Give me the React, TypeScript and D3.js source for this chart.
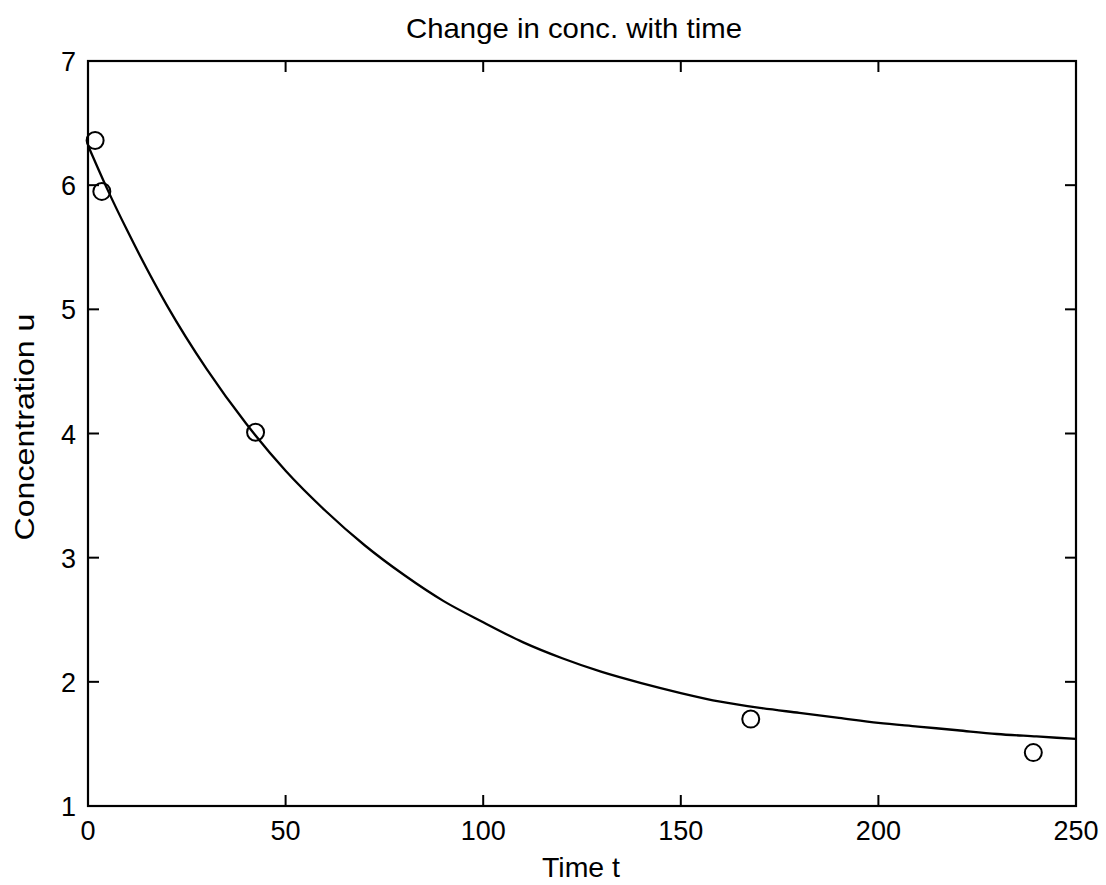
import React from "react";
import * as d3 from "d3";

const title = "Change in conc. with time";
const xLabel = "Time t";
const yLabel = "Concentration u";

const xTicks = [0, 50, 100, 150, 200, 250];
const yTicks = [1, 2, 3, 4, 5, 6, 7];

// observed data (circles)
const obsT = [1.8, 3.5, 42.4, 167.7, 239.2];
const obsU = [6.36, 5.95, 4.01, 1.7, 1.43];

// fitted curve
const fitT = [0, 5, 10, 20, 30, 40, 50, 60, 70, 80, 90, 100, 110, 120, 130, 140, 150, 160, 170, 180, 190, 200, 210, 220, 230, 240, 250];
const fitU = [6.32, 5.96, 5.63, 5.03, 4.52, 4.08, 3.7, 3.38, 3.1, 2.86, 2.65, 2.48, 2.32, 2.19, 2.08, 1.99, 1.91, 1.84, 1.79, 1.75, 1.71, 1.67, 1.64, 1.61, 1.58, 1.56, 1.54];

const W = 1106;
const H = 885;
const left = 88, right = 1076, top = 61, bottom = 806;
const font = "'Liberation Sans', Arial, sans-serif";

export default function App() {
  const x = d3.scaleLinear().domain([0, 250]).range([left, right]);
  const y = d3.scaleLinear().domain([1, 7]).range([bottom, top]);
  const line = d3
    .line<number>()
    .x((_, i) => x(fitT[i]))
    .y((d) => y(d))
    .curve(d3.curveMonotoneX);
  const tl = 11;
  return (
    <svg
      width={W}
      height={H}
      style={{ position: "absolute", left: 0, top: 0, background: "#fff" }}
    >
      <rect x={0} y={0} width={W} height={H} fill="#fff" />
      <path d={line(fitU) || ""} fill="none" stroke="#000" strokeWidth={2.3} />
      {obsT.map((t, i) => (
        <circle key={i} cx={x(t)} cy={y(obsU[i])} r={8.5} fill="none" stroke="#000" strokeWidth={2} />
      ))}
      <rect x={left} y={top} width={right - left} height={bottom - top} fill="none" stroke="#000" strokeWidth={2.2} />
      {xTicks.map((t) => (
        <g key={"x" + t}>
          <line x1={x(t)} x2={x(t)} y1={bottom} y2={bottom - tl} stroke="#000" strokeWidth={2} />
          <line x1={x(t)} x2={x(t)} y1={top} y2={top + tl} stroke="#000" strokeWidth={2} />
          <text x={x(t)} y={840} textAnchor="middle" fontFamily={font} fontSize={27}>
            {t}
          </text>
        </g>
      ))}
      {yTicks.map((v) => (
        <g key={"y" + v}>
          <line x1={left} x2={left + tl} y1={y(v)} y2={y(v)} stroke="#000" strokeWidth={2} />
          <line x1={right} x2={right - tl} y1={y(v)} y2={y(v)} stroke="#000" strokeWidth={2} />
          <text x={76} y={y(v) + 10} textAnchor="end" fontFamily={font} fontSize={27}>
            {v}
          </text>
        </g>
      ))}
      <text x={574} y={38} textAnchor="middle" fontFamily={font} fontSize={28} textLength={336} lengthAdjust="spacingAndGlyphs">
        {title}
      </text>
      <text x={581} y={877} textAnchor="middle" fontFamily={font} fontSize={28} textLength={78} lengthAdjust="spacingAndGlyphs">
        {xLabel}
      </text>
      <text
        transform={`translate(34,427) rotate(-90)`}
        textAnchor="middle"
        fontFamily={font}
        fontSize={28}
        textLength={227}
        lengthAdjust="spacingAndGlyphs"
      >
        {yLabel}
      </text>
    </svg>
  );
}
